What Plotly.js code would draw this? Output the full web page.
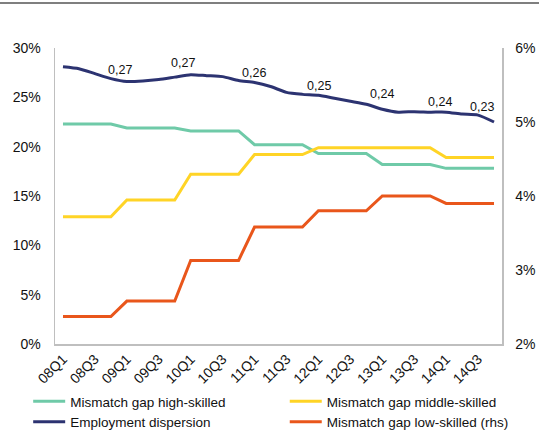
<!DOCTYPE html>
<html>
<head>
<meta charset="utf-8">
<script src="https://cdn.plot.ly/plotly-3.0.1.min.js"></script>
<style>html,body{margin:0;padding:0;background:#fff;}#chart{width:539px;height:430px;}</style>
</head>
<body>
<div id="chart"></div>
<script>
// Categories (quarters)
var quarters = ["08Q1","08Q2","08Q3","08Q4","09Q1","09Q2","09Q3","09Q4",
                "10Q1","10Q2","10Q3","10Q4","11Q1","11Q2","11Q3","11Q4",
                "12Q1","12Q2","12Q3","12Q4","13Q1","13Q2","13Q3","13Q4",
                "14Q1","14Q2","14Q3","14Q4"];

// Series values (%), left axis
var highSkilled = [22.3,22.3,22.3,22.3,21.9,21.9,21.9,21.9,
                   21.6,21.6,21.6,21.6,20.2,20.2,20.2,20.2,
                   19.3,19.3,19.3,19.3,18.2,18.2,18.2,18.2,
                   17.8,17.8,17.8,17.8];
var middleSkilled = [12.9,12.9,12.9,12.9,14.6,14.6,14.6,14.6,
                     17.2,17.2,17.2,17.2,19.2,19.2,19.2,19.2,
                     19.9,19.9,19.9,19.9,19.9,19.9,19.9,19.9,
                     18.9,18.9,18.9,18.9];
var employmentDispersion = [28.1,27.9,27.4,26.9,26.6,26.65,26.8,27.05,
                            27.3,27.2,27.1,26.7,26.5,26.1,25.5,25.3,
                            25.2,24.9,24.6,24.3,23.8,23.5,23.55,23.5,
                            23.5,23.3,23.2,22.5];
// Right axis (%)
var lowSkilled = [2.37,2.37,2.37,2.37,2.58,2.58,2.58,2.58,
                  3.13,3.13,3.13,3.13,3.58,3.58,3.58,3.58,
                  3.80,3.80,3.80,3.80,4.00,4.00,4.00,4.00,
                  3.90,3.90,3.90,3.90];

// Data labels on employment dispersion
var labelIndex = [4, 8, 12, 16, 20, 24, 26];
var labelText = ["0,27","0,27","0,26","0,25","0,24","0,24","0,23"];

var font = "Liberation Sans, Arial, sans-serif";

var traces = [
  {x: quarters, y: highSkilled, name: "Mismatch gap high-skilled", type: "scatter", mode: "lines",
   legend: "legend", line: {color: "#6fcaa8", width: 3}},
  {x: quarters, y: middleSkilled, name: "Mismatch gap middle-skilled", type: "scatter", mode: "lines",
   legend: "legend2", line: {color: "#ffd426", width: 3}},
  {x: quarters, y: employmentDispersion, name: "Employment dispersion", type: "scatter", mode: "lines",
   legend: "legend", line: {color: "#2c3371", width: 3, shape: "spline", smoothing: 0.6}},
  {x: quarters, y: lowSkilled, name: "Mismatch gap low-skilled (rhs)", type: "scatter", mode: "lines",
   legend: "legend2", yaxis: "y2", line: {color: "#e9561b", width: 3}}
];

var xs = [-7, -8, -1, 1, 0, -6, 4];
var ys = [12, 12, 10, 9, 15, 10, 8];
var annotations = labelIndex.map(function(idx, i) {
  return {x: quarters[idx], y: employmentDispersion[idx], xref: "x", yref: "y",
          text: labelText[i], showarrow: false, xshift: xs[i], yshift: ys[i],
          font: {family: font, size: 12.5, color: "#111"}};
});

var legendFont = {family: font, size: 13.5, color: "#111"};
var layout = {
  width: 539, height: 430,
  margin: {l: 55, r: 37, t: 48, b: 86, autoexpand: false},
  paper_bgcolor: "#fff", plot_bgcolor: "#fff",
  font: {family: font, size: 14, color: "#111"},
  showlegend: true,
  legend: {orientation: "v", x: -0.06, xanchor: "left", y: -0.142, yanchor: "top",
           tracegroupgap: 0, font: legendFont, itemwidth: 32, bgcolor: "rgba(0,0,0,0)"},
  legend2: {orientation: "v", x: 0.514, xanchor: "left", y: -0.142, yanchor: "top",
           tracegroupgap: 0, font: legendFont, itemwidth: 32, bgcolor: "rgba(0,0,0,0)"},
  xaxis: {type: "category", range: [-0.5, 27.5], dtick: 2, tickangle: -45,
          showgrid: false, zeroline: false, showline: true, linecolor: "#bfbfbf", linewidth: 1.5,
          ticks: "", tickfont: {family: font, size: 14, color: "#111"}, fixedrange: true},
  yaxis: {range: [0, 30], dtick: 5, ticksuffix: "%", showgrid: false, zeroline: false,
          showline: true, linecolor: "#bfbfbf", linewidth: 1.5, ticks: "", ticklabelstandoff: 10,
          tickfont: {family: font, size: 14, color: "#111"}},
  yaxis2: {range: [2, 6], dtick: 1, ticksuffix: "%", overlaying: "y", side: "right",
           showgrid: false, zeroline: false, showline: true, linecolor: "#bfbfbf", linewidth: 1.5,
           ticks: "", ticklabelstandoff: 9, tickfont: {family: font, size: 14, color: "#111"}},
  shapes: [{type: "line", xref: "paper", yref: "paper", x0: -55/447, x1: 1 + 37/447,
            y0: 1 + 45/296, y1: 1 + 45/296, line: {color: "#000", width: 1.2}}],
  annotations: annotations
};

Plotly.newPlot("chart", traces, layout, {displayModeBar: false, staticPlot: true});
</script>
</body>
</html>
